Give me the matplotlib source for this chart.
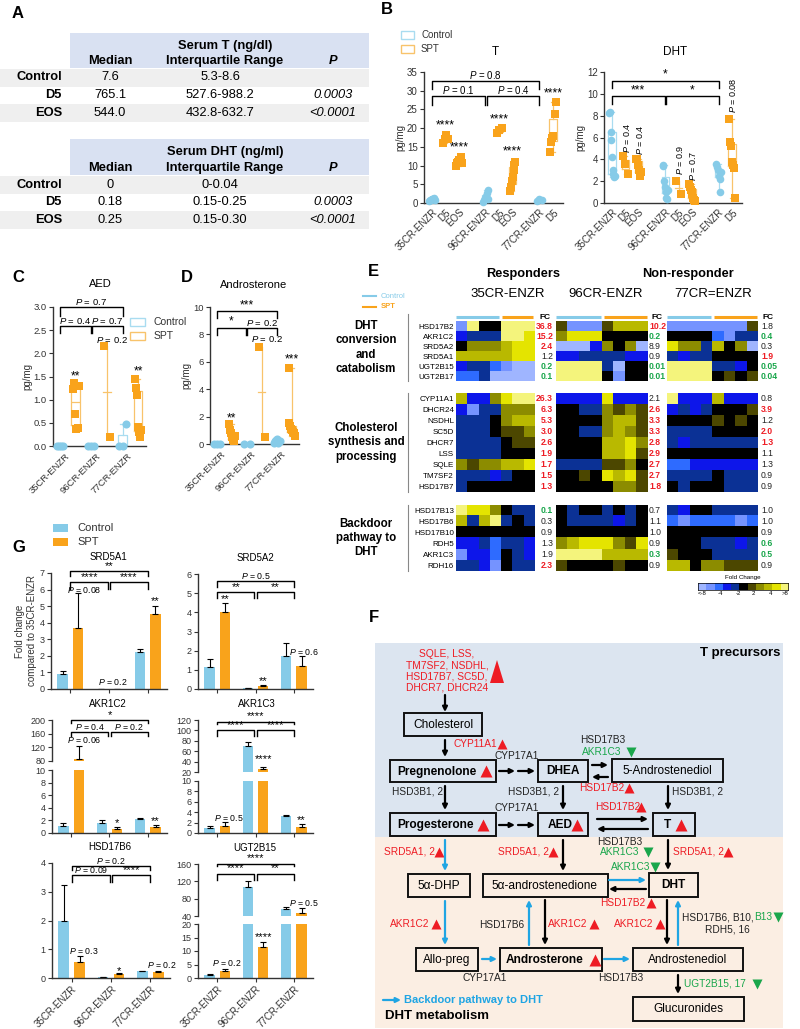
import numpy as np
import matplotlib
matplotlib.use('Agg')
import matplotlib.pyplot as plt
from matplotlib.colors import ListedColormap, BoundaryNorm
from matplotlib.patches import Rectangle, Polygon
import matplotlib.transforms as mtrans

plt.rcParams['font.family'] = ['Liberation Sans', 'DejaVu Sans']
plt.rcParams['mathtext.fontset'] = 'custom'
plt.rcParams['mathtext.rm'] = 'Liberation Sans'
plt.rcParams['mathtext.it'] = 'Liberation Sans:italic'
plt.rcParams['mathtext.bf'] = 'Liberation Sans:bold'

W, H = 800, 1029
CTRL, SPT = '#86cbe8', '#f9a31b'
CTRL_L, SPT_L = '#a9dcf0', '#f8c36b'
RED, GREEN, BLUE = '#ee1c24', '#19a64b', '#1fa5e3'

# ---------------- Panel A data ----------------
a_rows = ['Control', 'D5', 'EOS']
t_median = ['7.6', '765.1', '544.0']
t_iqr = ['5.3-8.6', '527.6-988.2', '432.8-632.7']
t_p = ['', '0.0003', '<0.0001']
dht_median = ['0', '0.18', '0.25']
dht_iqr = ['0-0.04', '0.15-0.25', '0.15-0.30']
dht_p = ['', '0.0003', '<0.0001']

# ---------------- Panel B data ----------------
b_labels = ['35CR-ENZR', 'D5', 'EOS', '96CR-ENZR', 'D5', 'EOS', '77CR-ENZR', 'D5']
b_pos = [0, 1, 2, 4, 5, 6, 8, 9]
b_kind = ['c', 's', 's', 'c', 's', 's', 'c', 's']
t_vals = [[0.5, 0.7, 0.9, 1.0, 1.1, 1.2, 1.4, 0.8], [16.0, 17.2, 18.2, 17.0],
          [10.0, 10.6, 11.0, 11.4, 12.3, 10.8], [0.3, 0.8, 1.3, 1.8, 2.6, 3.4, 1.1],
          [18.6, 19.4, 20.0], [3.2, 4.4, 5.8, 7.0, 8.8, 10.2, 11.0], [0.6, 1.0, 0.8],
          [13.5, 16.2, 17.4, 18.0, 23.8, 27.0]]
dht_vals = [[8.2, 8.3, 6.5, 5.8, 4.2, 3.0, 2.7, 2.4, 2.5], [4.3, 3.6, 2.7],
            [4.0, 4.0, 3.5, 3.0, 2.5, 2.8], [3.5, 3.4, 2.0, 1.5, 1.0, 0.5, 0.4, 1.2],
            [2.0, 0.8], [1.7, 1.5, 1.2, 1.0, 0.8, 0.5, 0.3, 0.2],
            [3.6, 3.3, 3.0, 2.5, 2.2, 1.0, 2.8], [7.7, 5.6, 5.2, 3.8, 3.5, 3.2, 0.5]]
t_stars = [(1, 19.0, '****'), (2, 13.3, '****'), (5, 20.8, '****'), (6, 12.3, '****'), (9, 27.6, '****')]
t_brackets = [(0, 8, 32.7, 2.3, 'P = 0.8'), (0, 4, 28.6, 2.3, 'P = 0.1'), (4, 8, 28.6, 2.3, 'P = 0.4')]
dht_brackets = [(0, 8, 11.2, 0.7, '*'), (0, 4, 9.8, 0.7, '***'), (4, 8, 9.8, 0.7, '*')]
dht_ptext = [(1, 4.6, 'P = 0.4'), (2, 4.4, 'P = 0.4'), (5, 2.6, 'P = 0.9'), (6, 2.0, 'P = 0.7'), (9, 8.2, 'P = 0.08')]

# ---------------- Panels C, D data ----------------
cd_groups = ['35CR-ENZR', '96CR-ENZR', '77CR-ENZR']
aed_ctrl = [[0, 0, 0, 0], [0, 0, 0], [0, 0, 0.47]]
aed_spt = [[1.22, 1.36, 0.70, 0.37, 0.38, 1.30], [2.15, 0.20], [1.45, 1.26, 1.10, 0.40, 0.30, 0.20, 0.35]]
andro_ctrl = [[0, 0, 0], [0, 0], [0.1, 0.2, 0.3, 0.35, 0.1, 0.25]]
andro_spt = [[1.45, 1.0, 0.8, 0.5, 0.3, 0.2, 0.6], [7.1, 0.5], [5.55, 1.5, 1.3, 1.1, 1.0, 0.9, 0.8, 0.6]]

# ---------------- Panel E data ----------------
genes_dht = ['HSD17B2', 'AKR1C2', 'SRD5A2', 'SRD5A1', 'UGT2B15', 'UGT2B17']
genes_chol = ['CYP11A1', 'DHCR24', 'NSDHL', 'SC5D', 'DHCR7', 'LSS', 'SQLE', 'TM7SF2', 'HSD17B7']
genes_bd = ['HSD17B13', 'HSD17B6', 'HSD17B10', 'RDH5', 'AKR1C3', 'RDH16']
heat_dht_35 = [[-4, 5, 0, 0, 5, 5, 5], [-2, -1, -1, -1, 5, 5, 4], [0, 2, 2, 2, 3, 4, 4],
               [3, 3, 3, 3, 3, 4, 4], [-2, -1, -1, -3, -4, -5, -5], [-3, -3, -1, -5, -5, -5, -5]]
heat_dht_96 = [[1, -4, -4, -4, 1, 3, 3, 3], [2, 4, 4, 4, 0, 0, 0, 0], [-5, -5, -5, -2, 2, 0, 2, -5],
               [-2, -2, -1, -1, -1, -1, -2, -2], [5, 5, 5, 5, -1, -5, 0, 0], [5, 5, 5, 5, 0, -4, 0, 0]]
heat_dht_77 = [[-4, -4, -4, -4, -4, -4, -4, 1], [0, 0, 0, 0, -3, -4, -1, -1], [4, 2, 2, -1, 3, 0, 2, -5],
               [-1, -2, -1, -1, 0, 0, 0, 0], [5, 5, 5, 5, -1, -1, -2, 0], [5, 5, 5, 5, 0, 1, 0, 1]]
heat_chol_35 = [[3, -2, -2, 2, 4, 5, 5], [-2, -4, -1, -1, 2, 2, 2], [-1, -1, -1, 0, 2, 3, 3],
                [-1, -1, -1, 0, 1, 1, 2], [-1, -1, -1, -1, 0, 1, 1], [-1, -1, -1, -1, 0, 0, 0],
                [2, 1, 2, 2, 3, 3, 4], [-1, -1, -1, -2, -1, 0, 0], [-1, 0, 0, 0, 0, 0, 0]]
heat_chol_96 = [[-2, -2, -2, -2, 4, -2, -2, -2], [0, 0, -1, -1, 2, 1, 2, 1], [0, 0, 0, 0, 2, 3, 3, 1],
                [0, 0, -1, -1, 2, 3, 2, 1], [0, 0, 0, 0, 3, 3, 4, 2], [0, 0, 0, 0, 3, 3, 4, 1],
                [-1, -1, -1, -1, 1, 1, 2, 0], [0, 0, 1, 0, 4, 3, 4, 1], [0, 0, 0, 0, 0, 2, 2, 1]]
heat_chol_77 = [[5, -2, -2, -2, 3, -2, -2, -2], [-2, -1, -2, -1, 0, 0, 0, 1], [0, 0, 0, 0, 1, 0, 1, 0],
                [-1, -1, -1, -1, 0, 0, 0, 0], [-1, -2, -1, -1, -1, -1, -1, -1], [0, 0, 0, 0, 0, 0, 0, 0],
                [-3, -3, -2, -2, -2, -2, -2, -2], [-1, -1, -1, -1, 0, -1, -1, -1], [0, -1, 0, 0, 0, -1, -1, -1]]
heat_bd_35 = [[5, 4, 4, 2, 0, -1, -1], [3, -1, 3, 5, -1, 0, -1], [0, 0, 0, 0, 0, 0, 0],
              [-2, -2, -1, -3, -1, -1, -2], [-4, -2, -2, -3, 0, -1, -2], [-1, -1, -2, -4, 0, -1, -1]]
heat_bd_96 = [[0, -1, 0, 0, -1, 0, -1, 0], [0, -1, -1, -1, -1, -2, -1, 0], [0, 0, 0, 0, 0, 0, 0, 0],
              [2, 3, 4, 4, 4, 2, 1, 4], [5, 5, 5, 5, 3, 3, 3, 3], [1, 0, 0, 0, 0, 1, 0, 0]]
heat_bd_77 = [[-1, -2, 0, 0, -1, -1, -1, -1], [-3, -4, -3, -3, -3, -3, -4, -3], [0, 0, 0, 0, 0, 0, 0, 0],
              [0, 0, 0, -1, -1, -1, -2, -1], [1, 0, 0, 0, -1, -1, -1, -1], [3, 3, 0, 2, 2, 1, 1, 1]]
fc_dht = [['36.8', '15.2', '2.4', '1.2', '0.2', '0.1'], ['10.2', '0.2', '8.9', '0.9', '0.01', '0.01'],
          ['1.8', '0.4', '0.3', '1.9', '0.05', '0.04']]
fc_dht_col = ['rrrkgg', 'rgkkgg', 'kgkrgg']
fc_chol = [['26.3', '6.3', '5.3', '3.0', '2.6', '1.9', '1.7', '1.5', '1.3'],
           ['2.1', '2.6', '3.3', '3.3', '2.8', '2.9', '2.7', '2.7', '1.8'],
           ['0.8', '3.9', '1.2', '2.0', '1.3', '1.1', '1.3', '0.9', '0.9']]
fc_chol_col = ['rrrrrrrrr', 'krrrrrrrr', 'krkrrkkkk']
fc_bd = [['0.1', '0.3', '0.9', '1.3', '1.9', '2.3'], ['0.7', '1.1', '1.0', '0.9', '0.3', '0.9'],
         ['1.0', '1.0', '0.9', '0.6', '0.5', '0.9']]
fc_bd_col = ['gkkkkr', 'kkkkgk', 'kkkggk']
cbar_labels = ['<-8', '-4', '-2', '2', '4', '>8']
heat_colors = ['#9fb5ff', '#7593ff', '#2e6bff', '#0d16ea', '#0b3195', '#000000',
               '#4c4700', '#8c8c00', '#b9b900', '#e4e400', '#f4f47c']

# ---------------- Panel G data ----------------
g_groups = ['35CR-ENZR', '96CR-ENZR', '77CR-ENZR']
srd5a1_ctrl = [0.9, 0.02, 2.25]; srd5a1_ctrl_err = [0.18, 0.0, 0.18]
srd5a1_spt = [3.7, 0.03, 4.5]; srd5a1_spt_err = [2.1, 0.0, 0.52]
srd5a2_ctrl = [1.15, 0.03, 1.7]; srd5a2_ctrl_err = [0.4, 0.0, 0.7]
srd5a2_spt = [4.0, 0.18, 1.18]; srd5a2_spt_err = [0.5, 0.05, 0.53]
akr1c2_ctrl = [1.1, 1.6, 2.3]; akr1c2_ctrl_err = [0.5, 0.4, 0.15]
akr1c2_spt = [85, 0.7, 0.9]; akr1c2_spt_err = [40, 0.25, 0.3]
akr1c3_ctrl = [1.0, 70, 3.2]; akr1c3_ctrl_err = [0.3, 8, 0.3]
akr1c3_spt = [1.4, 26, 1.25]; akr1c3_spt_err = [0.7, 3, 0.55]
hsd17b6_ctrl = [1.97, 0.05, 0.24]; hsd17b6_ctrl_err = [1.25, 0.0, 0.02]
hsd17b6_spt = [0.55, 0.13, 0.2]; hsd17b6_spt_err = [0.22, 0.03, 0.03]
ugt2b15_ctrl = [1.0, 108, 55]; ugt2b15_ctrl_err = [0.4, 12, 6]
ugt2b15_spt = [2.5, 11.3, 48]; ugt2b15_spt_err = [1.0, 2.2, 10]

fig = plt.figure(figsize=(W / 100, H / 100), dpi=100)
ov = fig.add_axes([0, 0, 1, 1])
ov.set_xlim(0, W); ov.set_ylim(H, 0); ov.axis('off')


def pax(x0, y0, x1, y1):
    return fig.add_axes([x0 / W, 1 - y1 / H, (x1 - x0) / W, (y1 - y0) / H])


def style(ax, fs=6.5):
    for s in ['top', 'right']:
        ax.spines[s].set_visible(False)
    for s in ['left', 'bottom']:
        ax.spines[s].set_color('#333333'); ax.spines[s].set_linewidth(1.0)
    ax.tick_params(labelsize=fs, length=3, width=0.8, colors='#333333', pad=1.5)
    ax.patch.set_alpha(0)


def ptxt(s):
    return s.replace('P =', r'$\it{P}$ =')


def is_star(s):
    return set(s) == {'*'}


def bracket(ax, x1, x2, y, h, s, fs=6.5, lw=1.0):
    ax.plot([x1, x1, x2, x2], [y - h, y, y, y - h], color='k', lw=lw, clip_on=False)
    ax.text((x1 + x2) / 2, y, ptxt(s), ha='center', va='bottom',
            fontsize=fs + 1.8 if is_star(s) else fs, clip_on=False)


def plabel(x, y, s):
    ov.text(x, y, s, fontsize=12, fontweight='bold', ha='left', va='center')

# ================= Panel A =================
plabel(12, 13, 'A')
for (hy0, hy1, title, med, iqr, pv) in [(33, 68, 'Serum T (ng/dl)', t_median, t_iqr, t_p),
                                         (139, 175, 'Serum DHT (ng/ml)', dht_median, dht_iqr, dht_p)]:
    ov.add_patch(Rectangle((70, hy0), 299, hy1 - hy0, color='#d9e1f2', lw=0))
    ov.text(225, hy0 + 13, title, ha='center', va='center', fontsize=9.3, fontweight='bold')
    ov.text(110, hy1 - 7, 'Median', ha='center', va='center', fontsize=9.3, fontweight='bold')
    ov.text(225, hy1 - 7, 'Interquartile Range', ha='center', va='center', fontsize=9.3, fontweight='bold')
    ov.text(333, hy1 - 7, 'P', ha='center', va='center', fontsize=9.3, fontweight='bold', style='italic')
    for i, r in enumerate(a_rows):
        yc = hy1 + 9.5 + i * 17.8
        if i != 1:
            ov.add_patch(Rectangle((0, yc - 9), 369, 18, color='#efefef', lw=0))
        ov.text(62, yc, r, ha='right', va='center', fontsize=9.3, fontweight='bold')
        ov.text(110, yc, med[i], ha='center', va='center', fontsize=9.3)
        ov.text(220, yc, iqr[i], ha='center', va='center', fontsize=9.3)
        ov.text(333, yc, pv[i], ha='center', va='center', fontsize=9.3, style='italic')


# ================= Dot/box helper =================
def dotgroup(ax, x, vals, kind, s=30):
    col = CTRL if kind == 'c' else SPT
    lcol = CTRL_L if kind == 'c' else SPT_L
    n = len(vals)
    if n >= 3:
        ax.boxplot([vals], positions=[x], widths=0.55, whis=(0, 100), showfliers=False,
                   manage_ticks=False,
                   medianprops=dict(color=lcol, lw=0.9), boxprops=dict(color=lcol, lw=0.9),
                   whiskerprops=dict(color=lcol, lw=0.9), capprops=dict(color=lcol, lw=0.9))
    else:
        ax.plot([x, x], [min(vals), max(vals)], color=lcol, lw=0.9)
        ax.plot([x - 0.25, x + 0.25], [np.mean(vals)] * 2, color=lcol, lw=0.9)
    offs = np.linspace(-0.2, 0.2, n) if n > 1 else np.zeros(1)
    ax.scatter(x + offs, vals, marker='o' if kind == 'c' else 's', s=s, color=col,
               zorder=3, clip_on=False, linewidths=0)

# ================= Panel B =================
plabel(381, 10, 'B')
ov.add_patch(Rectangle((401, 31), 13, 8, fill=False, ec=CTRL_L, lw=1))
ov.text(421, 35, 'Control', fontsize=7, va='center', color='#333')
ov.add_patch(Rectangle((401, 45), 13, 8, fill=False, ec=SPT_L, lw=1))
ov.text(421, 49, 'SPT', fontsize=7, va='center', color='#333')

for (x0, x1, vals, ylim, yt, title, brs) in [(424, 563, t_vals, 35, np.arange(0, 36, 5), 'T', t_brackets),
                                              (604, 742, dht_vals, 12, np.arange(0, 13, 2), 'DHT', dht_brackets)]:
    ax = pax(x0, 72, x1, 203)
    style(ax, 7)
    for p, v, k in zip(b_pos, vals, b_kind):
        dotgroup(ax, p, v, k)
    ax.set_xlim(-0.6, 9.75); ax.set_ylim(0, ylim); ax.set_yticks(yt)
    ax.set_xticks(b_pos)
    ax.set_xticklabels(b_labels, rotation=45, ha='right', rotation_mode='anchor', fontsize=7)
    ax.tick_params(axis='x', length=0, pad=3)
    ax.set_ylabel('pg/mg', fontsize=7, labelpad=1, color='#333')
    ov.text((x0 + x1) / 2 + 2, 52, title, ha='center', va='center', fontsize=8.5)
    for (a, b, y, h, s) in brs:
        bracket(ax, a + (0.06 if a == 4 else 0), b - (0.06 if b == 4 else 0), y, h, s, fs=7)
    if title == 'T':
        for (p, y, s) in t_stars:
            ax.text(p, y, s, ha='center', va='bottom', fontsize=8.8)
    else:
        for (p, y, s) in dht_ptext:
            ax.text(p + 0.1, y, ptxt(s), ha='center', va='bottom', rotation=90, fontsize=6.5)

# ================= Panels C & D =================
plabel(12, 277, 'C')
plabel(181, 277, 'D')
ov.text(100, 284, 'AED', ha='center', va='center', fontsize=8)
ov.text(254, 285, 'Androsterone', ha='center', va='center', fontsize=8)
ov.add_patch(Rectangle((130, 318), 15, 8, fill=False, ec=CTRL_L, lw=1))
ov.text(154, 322, 'Control', fontsize=7.5, va='center', color='#333')
ov.add_patch(Rectangle((130, 332), 15, 8, fill=False, ec=SPT_L, lw=1))
ov.text(154, 336, 'SPT', fontsize=7.5, va='center', color='#333')

for (x0, x1, y1, ctrl, spt, ylim, yt, brs, texts) in [
        (53, 146, 446, aed_ctrl, aed_spt, 3.0, np.arange(0, 3.01, 0.5),
         [(0, 4, 3.0, 0.2, 'P = 0.7'), (0, 2, 2.6, 0.17, 'P = 0.4'), (2, 4, 2.6, 0.17, 'P = 0.7')],
         [(3.3, 2.18, 'P = 0.2'), (1, 1.38, '**'), (5, 1.48, '**')]),
        (210, 299, 444, andro_ctrl, andro_spt, 10, np.arange(0, 11, 2),
         [(0, 4, 9.7, 0.5, '***'), (0, 2, 8.5, 0.55, '*'), (2, 4, 8.5, 0.55, 'P = 0.2')],
         [(3.35, 7.3, 'P = 0.2'), (1, 1.45, '**'), (5, 5.7, '***')])]:
    ax = pax(x0, 307, x1, y1)
    style(ax, 6.8)
    for g in range(3):
        dotgroup(ax, 2 * g, ctrl[g], 'c', s=34)
        dotgroup(ax, 2 * g + 1, spt[g], 's', s=34)
    ax.set_xlim(-0.45, 5.5); ax.set_ylim(0, ylim); ax.set_yticks(yt)
    if ylim == 3.0:
        ax.set_yticklabels(['%.1f' % v for v in yt])
    ax.set_xticks([0.3, 2.3, 4.3])
    ax.set_xticklabels(cd_groups, rotation=45, ha='right', rotation_mode='anchor', fontsize=6.8)
    ax.tick_params(axis='x', length=0, pad=4)
    ax.set_ylabel('pg/mg', fontsize=7, labelpad=1, color='#333')
    for (a, b, y, h, s) in brs:
        bracket(ax, a + (0.05 if a == 2 else 0), b - (0.05 if b == 2 else 0), y, h, s, fs=6.8)
    for (x, y, s) in texts:
        ax.text(x, y, ptxt(s), ha='center', va='bottom', fontsize=8.6 if is_star(s) else 6.8)

# ================= Panel E =================
plabel(368, 272, 'E')
ov.text(523, 274, 'Responders', ha='center', va='center', fontsize=9.2, fontweight='bold')
ov.text(688, 274, 'Non-responder', ha='center', va='center', fontsize=9.2, fontweight='bold')
for x, s in [(508, '35CR-ENZR'), (606, '96CR-ENZR'), (713, '77CR=ENZR')]:
    ov.text(x, 294, s, ha='center', va='center', fontsize=9.5)
ov.plot([363, 376], [296, 296], color=CTRL, lw=1.5)
ov.text(381, 297, 'Control', fontsize=5.5, color=CTRL, va='center')
ov.plot([363, 376], [307, 307], color=SPT, lw=1.5)
ov.text(381, 307, 'SPT', fontsize=5.5, color=SPT, va='center', fontweight='bold')

hcmap = ListedColormap(heat_colors)
hnorm = BoundaryNorm(np.arange(-5.5, 6.5, 1), hcmap.N)
block_x = [(456, 534), (556, 648), (667, 758)]
group_y = [(314, 381), (393, 492), (505, 571)]
heats = [[heat_dht_35, heat_dht_96, heat_dht_77],
         [heat_chol_35, heat_chol_96, heat_chol_77],
         [heat_bd_35, heat_bd_96, heat_bd_77]]
genes_all = [genes_dht, genes_chol, genes_bd]
fcs = [fc_dht, fc_chol, fc_bd]
fccols = [fc_dht_col, fc_chol_col, fc_bd_col]
group_names = ['DHT\nconversion\nand\ncatabolism', 'Cholesterol\nsynthesis and\nprocessing', 'Backdoor\npathway to\nDHT']
fc_off = [(19, 'right'), (1, 'left'), (3, 'left')]
fc_hdr = [11, 9, 10]
cmap_fc = {'r': RED, 'g': GREEN, 'k': '#222222'}
for gi in range(3):
    y0, y1 = group_y[gi]
    ov.plot([408, 408], [y0, y1], color='#888888', lw=0.8)
    ov.text(366, (y0 + y1) / 2, group_names[gi], ha='center', va='center', fontsize=8.3,
            fontweight='bold', linespacing=1.25)
    for bi in range(3):
        data = np.array(heats[gi][bi])
        ax = pax(block_x[bi][0], y0, block_x[bi][1], y1)
        ax.imshow(data, cmap=hcmap, norm=hnorm, aspect='auto', interpolation='nearest')
        ax.set_xticks([])
        for s in ax.spines.values():
            s.set_visible(False)
        if bi == 0:
            ax.set_yticks(range(len(genes_all[gi])))
            ax.set_yticklabels(genes_all[gi], fontsize=5.8)
            ax.tick_params(axis='y', length=0, pad=1.5)
        else:
            ax.set_yticks([])
        blend = mtrans.blended_transform_factory(ax.transAxes, ax.transData)
        dx, ha = fc_off[bi]
        for ri, (v, c) in enumerate(zip(fcs[gi][bi], fccols[gi][bi])):
            ax.annotate(v, xy=(1, ri), xycoords=blend, xytext=(dx * 0.72, 0), textcoords='offset points',
                        ha=ha, va='center', fontsize=6.2, color=cmap_fc[c],
                        fontweight='bold' if c != 'k' else 'normal', annotation_clip=False)
        if gi == 0:
            ax.annotate('FC', xy=(1, -0.95), xycoords=blend, xytext=(fc_hdr[bi] * 0.72, 0),
                        textcoords='offset points', ha='center', va='center', fontsize=6,
                        fontweight='bold', annotation_clip=False)
            nc = data.shape[1]
            ax.plot([-0.5, 3.4], [-0.95, -0.95], color=CTRL, lw=2.2, clip_on=False, solid_capstyle='butt')
            ax.plot([3.65, nc - 0.6], [-0.95, -0.95], color=SPT, lw=2.2, clip_on=False, solid_capstyle='butt')
# colour scale
cax = pax(698, 583, 788, 590)
cax.imshow(np.arange(-5, 6)[None, :], cmap=hcmap, norm=hnorm, aspect='auto', interpolation='nearest')
cax.set_yticks([])
cax.set_xticks([0, 2.2, 4.4, 6.3, 8.3, 10.1])
cax.set_xticklabels(cbar_labels, fontsize=4.3)
cax.tick_params(axis='x', length=0, pad=1)
for s in cax.spines.values():
    s.set_linewidth(0.5)
ov.text(743, 578, 'Fold Change', ha='center', va='center', fontsize=4.5)

# ================= Panel F =================
plabel(369, 618, 'F')
ov.add_patch(Rectangle((375, 643), 408, 194, color='#dce5f0', lw=0))
ov.add_patch(Rectangle((375, 837), 408, 191, color='#fbeee3', lw=0))
ov.text(780, 653, 'T precursors', ha='right', va='center', fontsize=9.5, fontweight='bold')
ov.text(447, 671, 'SQLE, LSS,\nTM7SF2, NSDHL,\nHSD17B7, SC5D,\nDHCR7, DHCR24', ha='center', va='center',
        fontsize=7.4, color=RED, linespacing=1.15)
ov.add_patch(Polygon([[490, 683], [504, 683], [497, 660]], color=RED, lw=0))

f_boxes = [('Cholesterol', 404, 713, 482, 736, False, 443, None),
           ('Pregnenolone', 390, 760, 496, 782, True, 437, 486),
           ('DHEA', 538, 760, 588, 782, True, 563, None),
           ('5-Androstenediol', 612, 759, 723, 782, False, 667, None),
           ('Progesterone', 390, 813, 496, 836, True, 435, 483),
           ('AED', 538, 813, 588, 836, True, 560, 577),
           ('T', 653, 813, 695, 836, True, 667, 681),
           ('5α-DHP', 408, 874, 470, 897, False, 439, None),
           ('5α-androstenedione', 483, 874, 608, 897, False, 545, None),
           ('DHT', 649, 873, 698, 897, True, 673, None),
           ('Allo-preg', 416, 948, 478, 971, False, 447, None),
           ('Androsterone', 500, 948, 602, 971, True, 545, 595),
           ('Androstenediol', 633, 948, 743, 971, False, 688, None),
           ('Glucuronides', 633, 997, 744, 1021, False, 688, None)]
for (s, x0, y0, x1, y1, bold, tx, tri) in f_boxes:
    ov.add_patch(Rectangle((x0, y0), x1 - x0, y1 - y0, fill=False, ec='#111111', lw=1.4))
    ov.text(tx, (y0 + y1) / 2 + 0.5, s, ha='center', va='center', fontsize=8.6,
            fontweight='bold' if bold else 'normal')
    if tri is not None:
        ov.plot(tri, (y0 + y1) / 2, marker='^', ms=9, color=RED, mec='none')

f_arrows = [(445, 695, 445, 712, 'k'), (445, 740, 445, 757, 'k'),
            (499, 771, 515, 771, 'k'), (518, 771, 535, 771, 'k'),
            (592, 765, 608, 765, 'k'), (608, 777, 592, 777, 'k'),
            (445, 786, 445, 810, 'k'), (563, 786, 563, 810, 'k'), (668, 786, 668, 810, 'k'),
            (499, 825, 515, 825, 'k'), (518, 825, 535, 825, 'k'),
            (597, 819, 648, 819, 'k'), (648, 829, 597, 829, 'k'),
            (445, 840, 445, 871, 'b'), (563, 840, 563, 871, 'k'), (668, 840, 668, 870, 'k'),
            (609, 880, 646, 880, 'b'), (646, 889, 609, 889, 'k'),
            (445, 901, 445, 945, 'b'), (529, 945, 529, 900, 'b'), (545, 900, 545, 945, 'k'),
            (667, 900, 667, 945, 'k'), (678, 945, 678, 900, 'b'),
            (482, 959, 497, 959, 'b'), (604, 959, 630, 959, 'b'),
            (678, 975, 678, 994, 'k'), (383, 1000, 401, 1000, 'b')]
for (xa, ya, xb, yb, c) in f_arrows:
    ov.annotate('', xy=(xb, yb), xytext=(xa, ya),
                arrowprops=dict(arrowstyle='-|>', lw=1.6, color='k' if c == 'k' else BLUE,
                                mutation_scale=7, shrinkA=0, shrinkB=0))

f_labels = [('CYP11A1', 475, 744, 'r', 502), ('CYP17A1', 517, 756, 'k', None),
            ('HSD17B3', 603, 740, 'k', None), ('AKR1C3', 602, 752, 'g', 631),
            ('HSD17B2', 602, 788, 'r', 629), ('HSD3B1, 2', 418, 791, 'k', None),
            ('HSD3B1, 2', 533, 791, 'k', None), ('HSD3B1, 2', 697, 791, 'k', None),
            ('CYP17A1', 517, 808, 'k', None), ('HSD17B2', 618, 807, 'r', 641),
            ('HSD17B3', 620, 842, 'k', None), ('AKR1C3', 620, 852, 'g', 648),
            ('SRD5A1, 2', 409, 852, 'r', 439), ('SRD5A1, 2', 523, 852, 'r', 553),
            ('SRD5A1, 2', 698, 852, 'r', 728), ('AKR1C3', 631, 867, 'g', 655),
            ('HSD17B2', 623, 903, 'r', 651), ('AKR1C2', 410, 924, 'r', 436),
            ('HSD17B6', 502, 925, 'k', None), ('AKR1C2', 568, 924, 'r', 594),
            ('AKR1C2', 634, 924, 'r', 660), ('RDH5, 16', 727, 929, 'k', None),
            ('CYP17A1', 485, 978, 'k', None), ('HSD17B3', 621, 978, 'k', None),
            ('UGT2B15, 17', 715, 984, 'g', 757)]
fcol = {'r': RED, 'g': GREEN, 'k': '#222222'}
for (s, x, y, c, tri) in f_labels:
    ov.text(x, y, s, ha='center', va='center', fontsize=7.3, color=fcol[c])
    if tri is not None:
        ov.plot(tri, y, marker='^' if c == 'r' else 'v', ms=7, color=fcol[c], mec='none')
ov.text(682, 917, 'HSD17B6, B10,', ha='left', va='center', fontsize=7.3, color='#222222')
ov.text(754, 917, 'B13', ha='left', va='center', fontsize=7.3, color=GREEN)
ov.plot(778, 917, marker='v', ms=7, color=GREEN, mec='none')
ov.text(404, 1000, 'Backdoor pathway to DHT', ha='left', va='center', fontsize=8, color=BLUE,
        fontweight='bold')
ov.text(385, 1016, 'DHT metabolism', ha='left', va='center', fontsize=9.5, fontweight='bold')

# ================= Panel G =================
plabel(12, 548, 'G')
ov.add_patch(Rectangle((53, 524), 15, 8, color=CTRL, lw=0))
ov.text(77, 528, 'Control', fontsize=8, va='center', color='#333')
ov.add_patch(Rectangle((53, 538), 15, 8, color=SPT, lw=0))
ov.text(77, 542, 'SPT', fontsize=8, va='center', color='#333')


def gbars(ax, ctrl, cerr, spt, serr):
    x = np.arange(3)
    ek = dict(ecolor='k', lw=0.8, capsize=2.5, capthick=0.8)
    ax.bar(x - 0.2, ctrl, 0.27, color=CTRL, yerr=[np.zeros(3), cerr], error_kw=ek)
    ax.bar(x + 0.2, spt, 0.27, color=SPT, yerr=[np.zeros(3), serr], error_kw=ek)
    ax.set_xlim(-0.5, 2.5)


def gpanel(box, title, tx, ctrl, cerr, spt, serr, ylims, yticks, brs, texts, bottom_row=False, ylabel=False):
    x0, y0, x1, y1 = box
    ov.text(tx, y0 - 16, title, ha='center', va='center', fontsize=7)
    if len(ylims) == 1:
        axs = [pax(x0, y0, x1, y1)]
    else:
        axs = [pax(x0, y0, x1, ylims[2]), pax(x0, ylims[3], x1, y1)]
    lims = [ylims[0]] if len(ylims) == 1 else [ylims[0], ylims[1]]
    for ax, lim, yt in zip(axs, lims, yticks):
        style(ax, 6.5)
        gbars(ax, ctrl, cerr, spt, serr)
        ax.set_ylim(*lim); ax.set_yticks(yt)
    bot = axs[-1]
    bot.set_xticks([0, 1, 2])
    if bottom_row:
        bot.set_xticklabels(g_groups, rotation=45, ha='right', rotation_mode='anchor', fontsize=7)
    else:
        bot.set_xticklabels([])
    if len(axs) == 2:
        axs[0].spines['bottom'].set_visible(False)
        axs[0].set_xticks([])
    if ylabel:
        axs[0].set_ylabel('Fold change\ncompared to 35CR-ENZR', fontsize=7, color='#333', labelpad=2)
    for (k, a, b, y, h, s) in brs:
        bracket(axs[k], a + (0.03 if a == 1 else 0), b - (0.03 if b == 1 else 0), y, h, s, fs=6.3)
    for (k, x, y, s) in texts:
        axs[k].text(x, y, ptxt(s), ha='center', va='center', fontsize=8 if is_star(s) else 6.3)


gpanel((51, 573, 167, 689), 'SRD5A1', 108, srd5a1_ctrl, srd5a1_ctrl_err, srd5a1_spt, srd5a1_spt_err,
       [(0, 7)], [np.arange(0, 8)],
       [(0, 0, 2, 7.1, 0.3, '**'), (0, 0, 1, 6.43, 0.4, '****'), (0, 1, 2, 6.43, 0.4, '****')],
       [(0, 0.35, 5.95, 'P = 0.08'), (0, 1.1, 0.45, 'P = 0.2'), (0, 2.2, 5.3, '**')], ylabel=True)
gpanel((198, 574, 313, 689), 'SRD5A2', 255, srd5a2_ctrl, srd5a2_ctrl_err, srd5a2_spt, srd5a2_spt_err,
       [(0, 6)], [np.arange(0, 7)],
       [(0, 0, 2, 5.63, 0.3, 'P = 0.5'), (0, 0, 1, 5.08, 0.35, '**'), (0, 1, 2, 5.08, 0.35, '**')],
       [(0, 0.2, 4.7, '**'), (0, 1.2, 0.4, '**'), (0, 2.25, 1.95, 'P = 0.6')])
gpanel((52, 720, 167, 833), 'AKR1C2', 108, akr1c2_ctrl, akr1c2_ctrl_err, akr1c2_spt, akr1c2_spt_err,
       [(80, 200), (0, 10), 761, 770], [[80, 120, 160, 200], np.arange(0, 11, 2)],
       [(0, 0, 2, 200, 8, '*'), (0, 0, 1, 166, 12, 'P = 0.4'), (0, 1, 2, 166, 12, 'P = 0.2')],
       [(0, 0.35, 141, 'P = 0.06'), (1, 1.2, 1.55, '*'), (1, 2.2, 1.85, '**')])
gpanel((198, 720, 313, 833), 'AKR1C3', 257, akr1c3_ctrl, akr1c3_ctrl_err, akr1c3_spt, akr1c3_spt_err,
       [(20, 120), (0, 10), 772, 781], [np.arange(20, 121, 20), np.arange(0, 11, 2)],
       [(0, 0, 2, 117, 5, '****'), (0, 0, 1, 100, 10, '****'), (0, 1, 2, 100, 10, '****')],
       [(0, 1.22, 45, '****'), (1, 0.3, 2.85, 'P = 0.5'), (1, 2.2, 2.45, '**')])
gpanel((52, 863, 170, 978), 'HSD17B6', 110, hsd17b6_ctrl, hsd17b6_ctrl_err, hsd17b6_spt, hsd17b6_spt_err,
       [(0, 4)], [np.arange(0, 5)],
       [(0, 0, 2, 3.9, 0.15, 'P = 0.2'), (0, 0, 1, 3.58, 0.25, 'P = 0.09'), (0, 1, 2, 3.58, 0.25, '****')],
       [(0, 0.3, 0.93, 'P = 0.3'), (0, 1.2, 0.25, '*'), (0, 2.3, 0.44, 'P = 0.2')], bottom_row=True)
gpanel((198, 864, 313, 978), 'UGT2B15', 255, ugt2b15_ctrl, ugt2b15_ctrl_err, ugt2b15_spt, ugt2b15_spt_err,
       [(40, 160), (0, 20), 916, 924], [[40, 80, 120, 160], np.arange(0, 21, 5)],
       [(0, 0, 2, 161, 6, '****'), (0, 0, 1, 138, 15, '****'), (0, 1, 2, 138, 15, '**')],
       [(0, 2.25, 69, 'P = 0.5'), (1, 0.25, 5.6, 'P = 0.2'), (1, 1.2, 15.3, '****')], bottom_row=True)

fig.savefig('out.png', dpi=100)
